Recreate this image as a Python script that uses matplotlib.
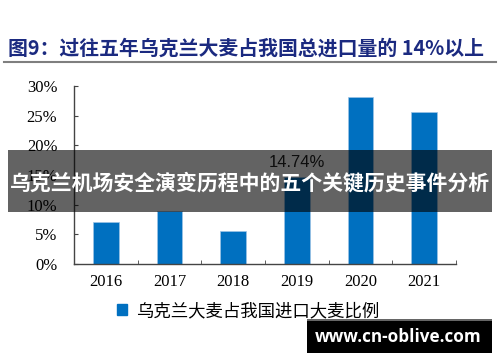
import matplotlib
matplotlib.use("Agg")
import matplotlib.pyplot as plt
from matplotlib.patches import Rectangle, Patch
from matplotlib.lines import Line2D

YEARS = ["2016", "2017", "2018", "2019", "2020", "2021"]
SHARES = [7.1, 8.9, 5.55, 14.74, 28.1, 25.7]
Y_TICKS = [0, 5, 10, 15, 20, 25, 30]
ANNOTATED_YEAR = "2019"

TITLE = "图9：过往五年乌克兰大麦占我国总进口量的 14%以上"
BANNER = "乌克兰机场安全演变历程中的五个关键历史事件分析"
LEGEND_LABEL = "乌克兰大麦占我国进口大麦比例"
WATERMARK = "www.cn-oblive.com"

BAR_COLOR = "#0070C0"
CJK = ["Noto Sans CJK SC", "DejaVu Sans"]

W, H = 500, 362
fig = plt.figure(figsize=(W / 100, H / 100), dpi=100)
ax = fig.add_axes([74 / W, 1 - 264 / H, 382 / W, 178 / H])

x = list(range(len(YEARS)))
ax.bar(x, SHARES, width=0.40, color=BAR_COLOR, edgecolor="#9DC3E6", linewidth=0.5, zorder=2)

ax.set_xlim(-0.5, len(YEARS) - 0.5)
ax.set_ylim(0, 30)
ax.set_yticks(Y_TICKS)
ax.set_yticklabels([f"{v}%" for v in Y_TICKS], family="Liberation Serif", fontsize=12)
ax.set_xticks(x)
ax.set_xticklabels(YEARS, family="Liberation Serif", fontsize=12)
ax.tick_params(axis="x", which="major", length=0, pad=7)
ax.set_xticks([i + 0.5 for i in x], minor=True)
ax.tick_params(axis="x", which="minor", direction="in", length=3, color="#444444")
ax.tick_params(axis="y", direction="in", length=3, color="#444444", pad=12)
for side in ("top", "right"):
    ax.spines[side].set_visible(False)
for side in ("left", "bottom"):
    ax.spines[side].set_color("#444444")
    ax.spines[side].set_linewidth(1.0)

i = YEARS.index(ANNOTATED_YEAR)
ax.annotate(f"{SHARES[i]:.2f}%", (x[i], SHARES[i]), xytext=(0, 5), textcoords="offset points",
            ha="center", va="bottom", family="Liberation Sans", fontsize=12, color="#222222", zorder=3)

# title and rule underneath
fig.text(8 / W, 1 - 48 / H, TITLE, family=CJK, fontsize=14.3, fontweight="bold",
         color="#1B2A80", ha="left", va="center")
fig.add_artist(Line2D([4 / W, 496 / W], [1 - 62 / H, 1 - 62 / H], color="#7F7F7F", lw=1.5))

# legend
fig.legend(handles=[Patch(color=BAR_COLOR, label=LEGEND_LABEL)], loc="center",
           bbox_to_anchor=(248 / W, 1 - 311 / H), frameon=False, handlelength=0.6,
           handleheight=0.6, handletextpad=0.5, prop={"family": CJK, "size": 12.5})

# overlay banner
fig.add_artist(Rectangle((8 / W, 1 - 212 / H), 484 / W, 62 / H, transform=fig.transFigure,
                         facecolor="black", alpha=0.61, edgecolor="none", zorder=5))
fig.text(250 / W, 1 - 183 / H, BANNER, family=CJK, fontsize=15, fontweight="bold",
         color="white", ha="center", va="center", zorder=6)

# watermark
fig.add_artist(Rectangle((307 / W, 1 - 353 / H), 185 / W, 34 / H, transform=fig.transFigure,
                         facecolor="#666666", edgecolor="none", zorder=5))
fig.add_artist(Rectangle((307 / W, 1 - 353 / H), 185 / W, 32 / H, transform=fig.transFigure,
                         facecolor="black", edgecolor="none", zorder=5))
fig.text(398 / W, 1 - 337 / H, WATERMARK, family="Open Sans", fontsize=12.3, fontweight="bold",
         color="white", ha="center", va="center", zorder=6)

fig.savefig("out.png", dpi=100)
